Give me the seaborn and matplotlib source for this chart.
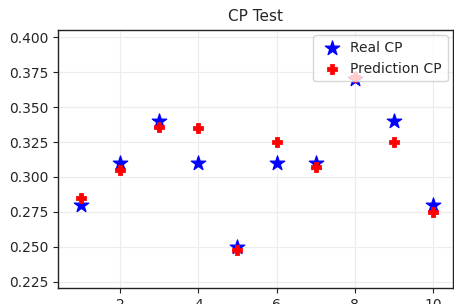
import matplotlib
matplotlib.use("Agg")
import matplotlib.pyplot as plt
import seaborn as sns
import pandas as pd

# data
steps = [1, 2, 3, 4, 5, 6, 7, 8, 9, 10]
real_cp = [0.280, 0.310, 0.340, 0.310, 0.250, 0.310, 0.310, 0.370, 0.340, 0.280]
pred_cp = [0.285, 0.305, 0.336, 0.335, 0.248, 0.325, 0.307, 0.372, 0.325, 0.275]

df = pd.DataFrame({"step": steps, "real": real_cp, "pred": pred_cp})

sns.set_style("white")
fig, ax = plt.subplots(figsize=(4.54, 3.04), dpi=100)
fig.subplots_adjust(left=0.128, right=0.998, top=0.902, bottom=0.053)

sns.scatterplot(data=df, x="step", y="real", ax=ax, marker="*", s=120,
                color="blue", edgecolor="blue", label="Real CP")
sns.scatterplot(data=df, x="step", y="pred", ax=ax, marker="P", s=50,
                color="red", edgecolor="red", label="Prediction CP")

ax.set_xlim(0.41, 10.52)
ax.set_ylim(0.2205, 0.4055)
ax.set_xticks([2, 4, 6, 8, 10])
ax.set_yticks([0.225, 0.250, 0.275, 0.300, 0.325, 0.350, 0.375, 0.400])
ax.set_yticklabels([f"{v:.3f}" for v in ax.get_yticks()])
ax.grid(True, color="#ececec", lw=0.8)
for s in ax.spines.values():
    s.set_color("#222222")
    s.set_linewidth(1.0)
ax.tick_params(axis="both", which="both", length=3.5, direction="out",
               labelsize=10, color="#222222", left=True, bottom=True)
ax.set_xlabel("")
ax.set_ylabel("")
ax.set_title("CP Test", fontsize=11)
ax.legend(loc="upper right", fontsize=10, frameon=True, handletextpad=0.3,
          borderaxespad=0.4)

plt.savefig("out.png", dpi=100)
